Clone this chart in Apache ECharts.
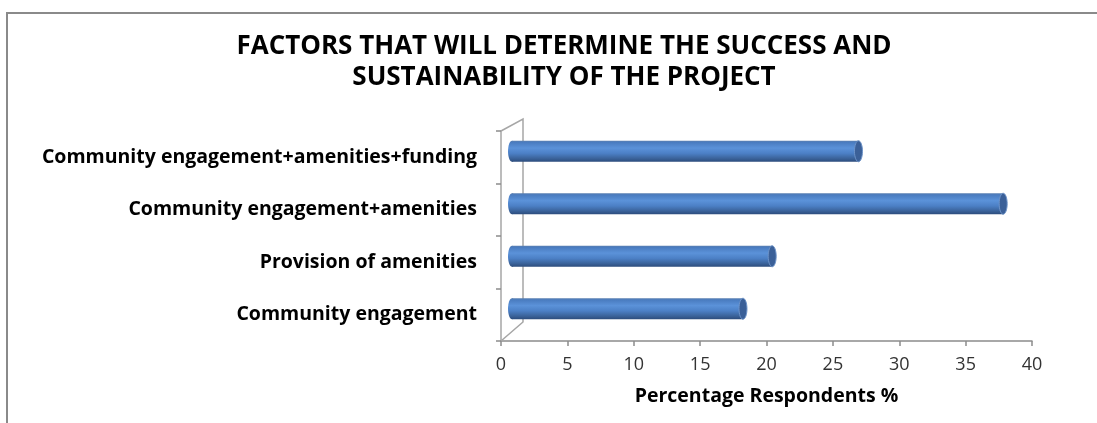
<!DOCTYPE html>
<html>
<head>
<meta charset="utf-8">
<script src="https://cdn.jsdelivr.net/npm/echarts@6/dist/echarts.min.js"></script>
<style>
html,body{margin:0;padding:0;background:#fff;}
#chart{width:1097px;height:423px;}
</style>
</head>
<body>
<div id="chart"></div>
<script>
const titleText = 'FACTORS THAT WILL DETERMINE THE SUCCESS AND\nSUSTAINABILITY OF THE PROJECT';
const categories = ['Community engagement+amenities+funding', 'Community engagement+amenities', 'Provision of amenities', 'Community engagement'];
const values = [26.1, 37.0, 19.6, 17.4];
const xAxisName = 'Percentage Respondents %';
const xMin = 0, xMax = 40, xStep = 5;

const chart = echarts.init(document.getElementById('chart'));
const DX = 11, DY = -6;

function barItem(params, api) {
  const v = api.value(0), c = api.value(1);
  const p0 = api.coord([0, c]);
  const p1 = api.coord([v, c]);
  const bw = api.size([0, 1])[1] * 0.4;
  const cy = p0[1] + DY;
  const x0 = p0[0] + DX, x1 = p1[0] + DX;
  const rx = 4, ry = bw / 2;
  const grad = new echarts.graphic.LinearGradient(0, 0, 0, 1, [
    {offset: 0, color: '#5a7fb0'},
    {offset: 0.08, color: '#4a7cc0'},
    {offset: 0.35, color: '#5b92d9'},
    {offset: 0.6, color: '#4c80c6'},
    {offset: 0.85, color: '#3a6299'},
    {offset: 1, color: '#2c4c7c'}
  ]);
  return {
    type: 'group',
    children: [
      {type: 'ellipse', shape: {cx: x0, cy: cy, rx: rx, ry: ry}, style: {fill: grad}},
      {type: 'rect', shape: {x: x0, y: cy - ry, width: x1 - x0, height: bw}, style: {fill: grad}},
      {type: 'ellipse', shape: {cx: x1, cy: cy, rx: rx, ry: ry}, style: {fill: '#3b6098', stroke: '#6d93c8', lineWidth: 1}}
    ]
  };
}

function wallItem(params, api) {
  const cs = params.coordSys;
  const L = cs.x, T = cs.y, B = cs.y + cs.height;
  return {
    type: 'polyline',
    shape: {points: [[L, T], [L + 22, T - 12], [L + 22, B - 19], [L, B]]},
    style: {stroke: '#a6a6a6', lineWidth: 1.5, fill: null}
  };
}

chart.setOption({
  backgroundColor: '#fff',
  animation: false,
  title: {
    text: titleText,
    left: 559, top: 26, textAlign: 'center',
    textStyle: {fontFamily: 'Open Sans', fontWeight: 'bold', fontSize: 26, color: '#000', lineHeight: 31}
  },
  graphic: [
    {type: 'polyline', shape: {points: [[7, 423], [7, 13], [1097, 13]]}, style: {stroke: '#8a8a8a', lineWidth: 2, fill: null}, z: 0}
  ],
  grid: {left: 501, right: 65, top: 131, bottom: 82, containLabel: false},
  xAxis: {
    type: 'value', min: xMin, max: xMax, interval: xStep,
    axisLine: {show: true, lineStyle: {color: '#8c8c8c', width: 1.5}},
    axisTick: {show: true, length: 5, lineStyle: {color: '#8c8c8c', width: 1.5}},
    splitLine: {show: false},
    axisLabel: {fontFamily: 'Open Sans', fontSize: 18, color: '#333', margin: 15},
    name: xAxisName, nameLocation: 'middle', nameGap: 45,
    nameTextStyle: {fontFamily: 'Open Sans', fontWeight: 'bold', fontSize: 19.5, color: '#000'}
  },
  yAxis: {
    type: 'category', data: categories, inverse: true,
    axisLine: {show: true, lineStyle: {color: '#a6a6a6', width: 1.5}},
    axisTick: {show: true, length: 5, lineStyle: {color: '#8c8c8c', width: 1.5}},
    axisLabel: {fontFamily: 'Open Sans', fontWeight: 'bold', fontSize: 19.5, color: '#000', margin: 24, align: 'right'}
  },
  series: [
    {type: 'custom', renderItem: wallItem, data: [[0, 0]], encode: {x: 0, y: 1}, silent: true, z: 1},
    {type: 'custom', renderItem: barItem, data: values.map((v, i) => [v, i]), encode: {x: 0, y: 1}, z: 2}
  ]
});
</script>
</body>
</html>
